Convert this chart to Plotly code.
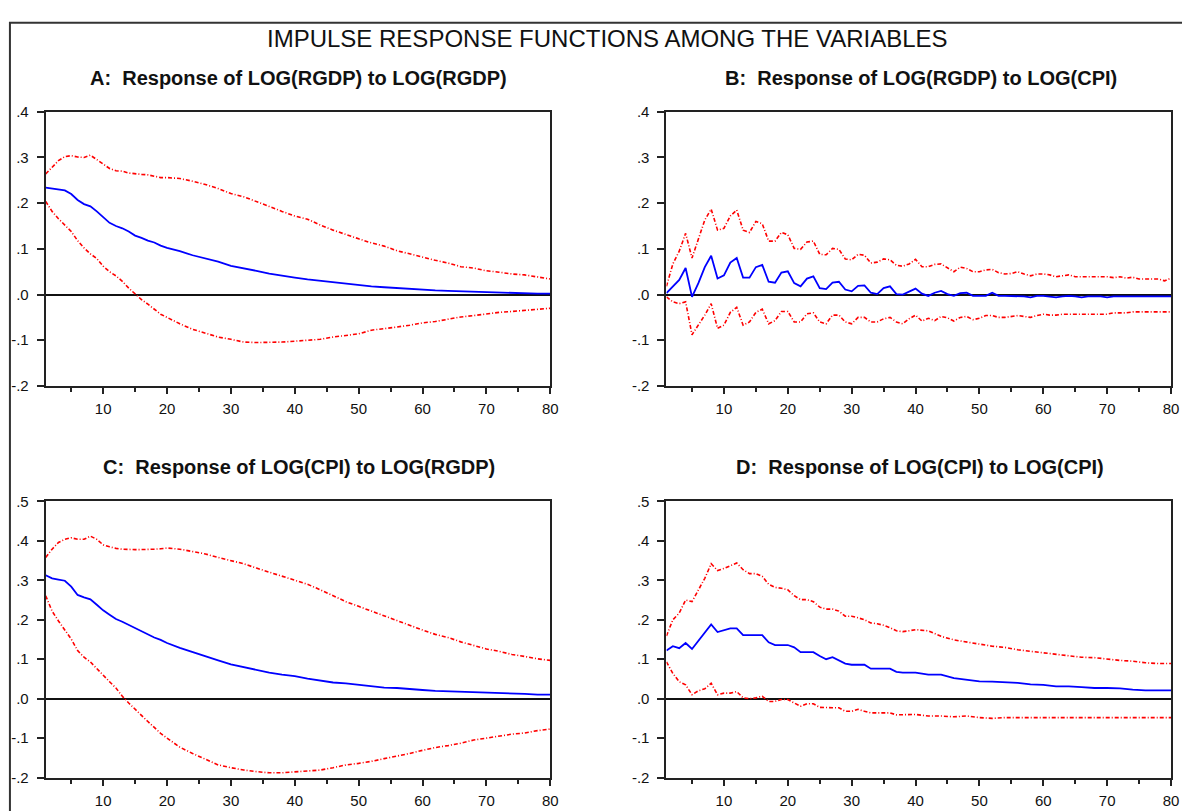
import plotly.graph_objects as go

# ---------------- data ----------------
T_A = list(range(1, 21)) + list(range(22, 81, 2))
T_B = list(range(1, 81))
T_D = list(range(1, 41)) + list(range(42, 81, 2))

A_MID = [0.234, 0.232, 0.231, 0.228, 0.220, 0.207, 0.198, 0.193, 0.182, 0.169,
         0.157, 0.150, 0.145, 0.138, 0.129, 0.124, 0.118, 0.114, 0.107, 0.102,
         0.095, 0.086, 0.079, 0.072, 0.063, 0.058, 0.052, 0.046, 0.041, 0.037,
         0.033, 0.030, 0.026, 0.023, 0.020, 0.018, 0.016, 0.014, 0.012, 0.011,
         0.009, 0.008, 0.007, 0.006, 0.005, 0.004, 0.003, 0.003, 0.002, 0.002]
A_UP = [0.264, 0.279, 0.293, 0.302, 0.304, 0.301, 0.300, 0.305, 0.295, 0.286,
        0.276, 0.271, 0.270, 0.266, 0.264, 0.263, 0.262, 0.259, 0.256, 0.256,
        0.254, 0.248, 0.241, 0.232, 0.221, 0.214, 0.204, 0.193, 0.182, 0.172,
        0.165, 0.152, 0.141, 0.131, 0.122, 0.113, 0.106, 0.096, 0.089, 0.081,
        0.075, 0.069, 0.061, 0.058, 0.052, 0.049, 0.045, 0.043, 0.039, 0.034]
A_LO = [0.204, 0.182, 0.166, 0.151, 0.138, 0.118, 0.102, 0.089, 0.079, 0.062,
        0.050, 0.041, 0.029, 0.014, 0.001, -0.011, -0.021, -0.032, -0.043, -0.050,
        -0.064, -0.076, -0.084, -0.093, -0.098, -0.104, -0.105, -0.105, -0.104, -0.102,
        -0.100, -0.098, -0.093, -0.089, -0.086, -0.078, -0.075, -0.071, -0.067, -0.062,
        -0.059, -0.054, -0.049, -0.046, -0.042, -0.039, -0.037, -0.035, -0.032, -0.030]

B_MID = [0.003, 0.018, 0.032, 0.058, -0.005, 0.025, 0.060, 0.085, 0.035, 0.042,
         0.070, 0.080, 0.037, 0.037, 0.060, 0.065, 0.028, 0.026, 0.048, 0.051,
         0.025, 0.018, 0.035, 0.040, 0.014, 0.012, 0.026, 0.028, 0.011, 0.007,
         0.019, 0.020, 0.004, 0.001, 0.014, 0.018, 0.001, 0.000, 0.007, 0.013,
         0.002, -0.003, 0.004, 0.008, 0.001, -0.003, 0.003, 0.004, -0.003, -0.003,
         -0.003, 0.004, -0.003, -0.003, -0.003, -0.003, -0.004, -0.006, -0.003, -0.003,
         -0.004, -0.006, -0.004, -0.003, -0.004, -0.006, -0.004, -0.004, -0.004, -0.006,
         -0.004, -0.004, -0.004, -0.004, -0.004, -0.004, -0.004, -0.004, -0.004, -0.004]
B_UP = [0.018, 0.067, 0.095, 0.134, 0.080, 0.124, 0.163, 0.187, 0.141, 0.145,
        0.172, 0.185, 0.141, 0.136, 0.160, 0.155, 0.117, 0.117, 0.136, 0.131,
        0.101, 0.099, 0.115, 0.117, 0.088, 0.087, 0.101, 0.099, 0.078, 0.076,
        0.088, 0.086, 0.069, 0.071, 0.078, 0.076, 0.064, 0.062, 0.067, 0.077,
        0.061, 0.061, 0.066, 0.067, 0.059, 0.050, 0.060, 0.057, 0.050, 0.050,
        0.054, 0.055, 0.048, 0.045, 0.046, 0.050, 0.045, 0.041, 0.045, 0.045,
        0.043, 0.039, 0.041, 0.043, 0.039, 0.039, 0.039, 0.039, 0.039, 0.039,
        0.037, 0.039, 0.036, 0.038, 0.034, 0.034, 0.034, 0.034, 0.030, 0.036]
B_LO = [-0.005, -0.016, -0.020, -0.016, -0.088, -0.067, -0.045, -0.020, -0.074, -0.067,
        -0.039, -0.028, -0.067, -0.060, -0.039, -0.032, -0.064, -0.057, -0.037, -0.037,
        -0.060, -0.060, -0.042, -0.040, -0.060, -0.064, -0.045, -0.045, -0.060, -0.064,
        -0.050, -0.050, -0.060, -0.060, -0.053, -0.050, -0.060, -0.064, -0.053, -0.045,
        -0.058, -0.052, -0.057, -0.048, -0.051, -0.058, -0.050, -0.048, -0.055, -0.052,
        -0.046, -0.046, -0.050, -0.050, -0.048, -0.046, -0.048, -0.050, -0.046, -0.043,
        -0.045, -0.045, -0.043, -0.043, -0.043, -0.043, -0.043, -0.043, -0.043, -0.043,
        -0.040, -0.040, -0.040, -0.038, -0.038, -0.038, -0.038, -0.038, -0.038, -0.038]

C_MID = [0.313, 0.305, 0.302, 0.299, 0.284, 0.263, 0.257, 0.252, 0.238, 0.224,
         0.213, 0.202, 0.195, 0.187, 0.178, 0.169, 0.162, 0.155, 0.149, 0.141,
         0.129, 0.118, 0.107, 0.097, 0.087, 0.080, 0.074, 0.066, 0.061, 0.057,
         0.051, 0.046, 0.041, 0.039, 0.035, 0.031, 0.028, 0.027, 0.024, 0.022,
         0.020, 0.019, 0.018, 0.016, 0.016, 0.015, 0.014, 0.012, 0.010, 0.010]
C_UP = [0.358, 0.379, 0.396, 0.404, 0.408, 0.404, 0.404, 0.412, 0.404, 0.390,
        0.385, 0.381, 0.379, 0.378, 0.378, 0.378, 0.378, 0.379, 0.380, 0.382,
        0.379, 0.373, 0.367, 0.358, 0.350, 0.342, 0.331, 0.321, 0.310, 0.301,
        0.290, 0.276, 0.261, 0.246, 0.234, 0.222, 0.209, 0.197, 0.184, 0.174,
        0.163, 0.155, 0.144, 0.134, 0.126, 0.120, 0.112, 0.107, 0.101, 0.097]
C_LO = [0.261, 0.222, 0.197, 0.174, 0.151, 0.122, 0.105, 0.093, 0.076, 0.058,
        0.043, 0.027, 0.006, -0.011, -0.027, -0.044, -0.058, -0.073, -0.088, -0.100,
        -0.123, -0.139, -0.154, -0.168, -0.175, -0.181, -0.185, -0.188, -0.188, -0.186,
        -0.183, -0.181, -0.175, -0.168, -0.164, -0.159, -0.152, -0.146, -0.139, -0.131,
        -0.124, -0.119, -0.113, -0.105, -0.100, -0.096, -0.090, -0.087, -0.081, -0.077]

D_MID = [0.122, 0.133, 0.128, 0.141, 0.126, 0.147, 0.168, 0.188, 0.169, 0.174,
         0.178, 0.178, 0.161, 0.161, 0.161, 0.161, 0.143, 0.136, 0.136, 0.136,
         0.130, 0.118, 0.118, 0.118, 0.108, 0.100, 0.105, 0.097, 0.089, 0.086,
         0.086, 0.086, 0.076, 0.076, 0.076, 0.076, 0.068, 0.066, 0.066, 0.066,
         0.061, 0.061, 0.052, 0.048, 0.044, 0.043, 0.041, 0.040, 0.036, 0.035,
         0.031, 0.031, 0.029, 0.027, 0.027, 0.026, 0.023, 0.021, 0.021, 0.021]
D_UP = [0.159, 0.200, 0.217, 0.250, 0.246, 0.274, 0.305, 0.342, 0.325, 0.330,
        0.338, 0.344, 0.327, 0.317, 0.317, 0.310, 0.290, 0.282, 0.280, 0.276,
        0.261, 0.251, 0.251, 0.246, 0.232, 0.227, 0.227, 0.222, 0.209, 0.209,
        0.205, 0.200, 0.192, 0.190, 0.186, 0.180, 0.172, 0.170, 0.172, 0.175,
        0.172, 0.158, 0.149, 0.144, 0.139, 0.133, 0.130, 0.124, 0.120, 0.116,
        0.112, 0.108, 0.105, 0.104, 0.100, 0.097, 0.095, 0.091, 0.089, 0.089]
D_LO = [0.093, 0.064, 0.043, 0.035, 0.010, 0.020, 0.025, 0.039, 0.010, 0.014,
        0.014, 0.018, 0.002, 0.000, 0.002, 0.006, -0.007, -0.007, -0.002, -0.002,
        -0.011, -0.019, -0.013, -0.013, -0.022, -0.023, -0.023, -0.023, -0.032, -0.032,
        -0.027, -0.032, -0.036, -0.036, -0.036, -0.036, -0.041, -0.041, -0.041, -0.040,
        -0.044, -0.044, -0.046, -0.044, -0.048, -0.050, -0.048, -0.048, -0.048, -0.048,
        -0.048, -0.048, -0.048, -0.048, -0.048, -0.048, -0.048, -0.048, -0.048, -0.048]

MAIN_TITLE = "IMPULSE RESPONSE FUNCTIONS AMONG THE VARIABLES"
PANEL_TITLES = ["A:  Response of LOG(RGDP) to LOG(RGDP)",
                "B:  Response of LOG(RGDP) to LOG(CPI)",
                "C:  Response of LOG(CPI) to LOG(RGDP)",
                "D:  Response of LOG(CPI) to LOG(CPI)"]
X_TICKS = [10, 20, 30, 40, 50, 60, 70, 80]
X_MINOR = [5, 15, 25, 35, 45, 55, 65, 75]
Y_TICKS_TOP = [-0.2, -0.1, 0.0, 0.1, 0.2, 0.3, 0.4]
Y_TEXT_TOP = ["-.2", "-.1", ".0", ".1", ".2", ".3", ".4"]
Y_TICKS_BOT = [-0.2, -0.1, 0.0, 0.1, 0.2, 0.3, 0.4, 0.5]
Y_TEXT_BOT = ["-.2", "-.1", ".0", ".1", ".2", ".3", ".4", ".5"]

# ---------------- figure ----------------
W, H = 1182, 811
FONT = "Liberation Sans, Arial, sans-serif"
BLUE = "#0000FF"
RED = "#FF0000"
DASH = "4px,2px,1px,2px"

panels = [
    (T_A, A_MID, A_UP, A_LO),
    (T_B, B_MID, B_UP, B_LO),
    (T_A, C_MID, C_UP, C_LO),
    (T_D, D_MID, D_UP, D_LO),
]

fig = go.Figure()
for i, (t, mid, up, lo) in enumerate(panels):
    ax = "" if i == 0 else str(i + 1)
    for ys, col, dash, lw in ((up, RED, DASH, 1.6), (lo, RED, DASH, 1.6), (mid, BLUE, "solid", 1.8)):
        fig.add_trace(go.Scatter(x=t, y=ys, mode="lines", xaxis="x" + ax, yaxis="y" + ax,
                                 line=dict(color=col, width=lw, dash=dash),
                                 showlegend=False, hoverinfo="skip"))


def px_x(p):
    return p / W


def px_y(p):
    return 1 - p / H


x_doms = [(46, 554), (671, 1179)]
y_doms = [(105, 385), (503, 785)]

layout = dict(width=W, height=H, margin=dict(l=0, r=0, t=0, b=0),
              paper_bgcolor="white", plot_bgcolor="white",
              font=dict(family=FONT, color="black"), showlegend=False)

for i in range(4):
    r, c = divmod(i, 2)
    ax = "" if i == 0 else str(i + 1)
    xd = [px_x(x_doms[c][0]), px_x(x_doms[c][1])]
    yd = [px_y(y_doms[r][1]), px_y(y_doms[r][0])]
    if r == 0:
        yv, yt, yr = Y_TICKS_TOP, Y_TEXT_TOP, [-0.2, 0.4]
    else:
        yv, yt, yr = Y_TICKS_BOT, Y_TEXT_BOT, [-0.2, 0.5]
    layout["xaxis" + ax] = dict(domain=xd, anchor="y" + ax, range=[1, 80],
                                tickmode="array", tickvals=X_TICKS, ticktext=[str(v) for v in X_TICKS],
                                ticks="outside", ticklen=6, tickwidth=1.5, tickcolor="#222",
                                minor=dict(tickvals=X_MINOR, ticks="outside", ticklen=4,
                                           tickwidth=1.5, tickcolor="#222"),
                                showline=True, mirror=True, linecolor="#222", linewidth=2,
                                showgrid=False, zeroline=False, ticklabelstandoff=2,
                                tickfont=dict(size=15, family=FONT, color="#111"))
    layout["yaxis" + ax] = dict(domain=yd, anchor="x" + ax, range=yr,
                                tickmode="array", tickvals=yv, ticktext=yt,
                                ticks="outside", ticklen=7, tickwidth=1.5, tickcolor="#222",
                                showline=True, mirror=True, linecolor="#222", linewidth=2,
                                showgrid=False, zeroline=True, zerolinecolor="#111",
                                zerolinewidth=1.5, ticklabelstandoff=5,
                                tickfont=dict(size=15, family=FONT, color="#111"))

ann = [dict(text=MAIN_TITLE, x=px_x(612), y=px_y(30), xref="paper", yref="paper",
            showarrow=False, xanchor="center", yanchor="middle",
            font=dict(size=24, family=FONT, color="#111"))]
title_pos = [(301, 70), (927, 70), (301, 468), (926, 468)]
for (tx, ty), txt in zip(title_pos, PANEL_TITLES):
    ann.append(dict(text=txt, x=px_x(tx), y=px_y(ty), xref="paper", yref="paper",
                    showarrow=False, xanchor="center", yanchor="middle",
                    font=dict(size=20, family=FONT, color="#111", weight="bold")))
layout["annotations"] = ann
layout["shapes"] = [dict(type="rect", xref="paper", yref="paper",
                         x0=px_x(10), x1=1.02, y0=-0.02, y1=px_y(14),
                         line=dict(color="#333", width=2), layer="below")]

fig.update_layout(**layout)
fig.write_html("out.html", config={"displayModeBar": False},
               post_script="document.body.style.margin='0';document.body.style.overflow='hidden';")
